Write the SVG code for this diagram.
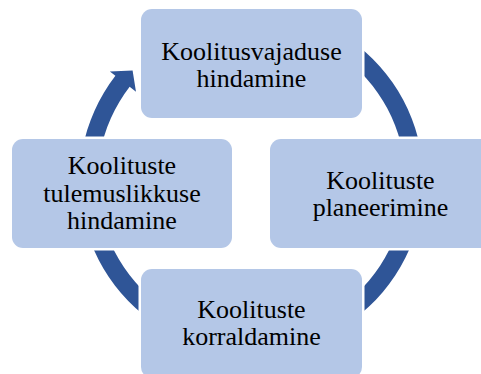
<svg xmlns="http://www.w3.org/2000/svg" width="481" height="374" viewBox="0 0 481 374">
<style>
.box{fill:#B4C7E7;stroke:#FFFFFF;stroke-width:5;paint-order:stroke}
.lbl{font-family:Liberation Serif, DejaVu Serif, serif;font-size:26px;fill:#000000;text-anchor:middle}
.ring{fill:#2F5597}
</style>
<rect width="481" height="374" fill="#FFFFFF"/>
<g id="connectors">
<path class="ring" d="M 192.67 19.37 A 172 172 0 1 1 115.41 75.82 L 109.87 71.54 L 132.6 70.6 L 135.98 91.72 L 129.65 86.82 A 154 154 0 1 0 198.83 36.29 Z"/>
</g>
<g id="node-needs">
<rect class="box" x="141" y="9" width="221" height="109" rx="11"/>
<text class="lbl" x="251.5" y="60">Koolitusvajaduse</text>
<text class="lbl" x="251.5" y="87">hindamine</text>
</g>
<g id="node-planning">
<rect class="box" x="270" y="139" width="221" height="109" rx="11"/>
<text class="lbl" x="380.5" y="189">Koolituste</text>
<text class="lbl" x="380.5" y="216">planeerimine</text>
</g>
<g id="node-organizing">
<rect class="box" x="141" y="269" width="221" height="109" rx="11"/>
<text class="lbl" x="251.5" y="318">Koolituste</text>
<text class="lbl" x="251.5" y="345">korraldamine</text>
</g>
<g id="node-evaluation">
<rect class="box" x="12" y="139" width="220" height="109" rx="11"/>
<text class="lbl" x="122" y="174">Koolituste</text>
<text class="lbl" x="122" y="201.5">tulemuslikkuse</text>
<text class="lbl" x="122" y="229">hindamine</text>
</g>
</svg>
